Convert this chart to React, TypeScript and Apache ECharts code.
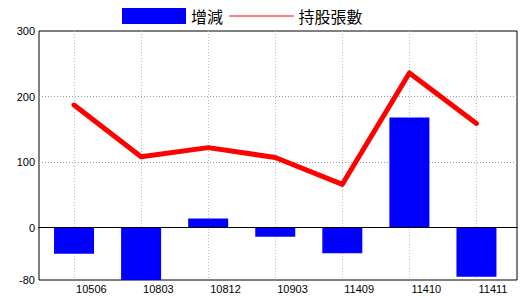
import React, { useEffect, useRef } from "react";
import * as echarts from "echarts";

const categories = ["10506", "10803", "10812", "10903", "11409", "11410", "11411"];
const changeValues = [-40, -80, 14, -14, -39, 168, -75];
const holderValues = [187, 108, 122, 107, 66, 236, 159];
const yLabels = [300, 200, 100, 0, -80];

export default function App() {
  const ref = useRef<HTMLDivElement>(null);
  useEffect(() => {
    if (!ref.current) return;
    const chart = echarts.init(ref.current, null, { renderer: "svg" });
    const fontNum = "Liberation Sans, Arial, sans-serif";
    chart.setOption({
      animation: false,
      backgroundColor: "#fff",
      legend: {
        left: 122,
        top: 8,
        itemWidth: 64,
        itemHeight: 16,
        itemGap: 6,
        padding: 0,
        textStyle: { fontSize: 16, color: "#000", fontFamily: "Noto Sans CJK TC" },
        lineStyle: { width: 1 },
        data: [
          { name: "增減", icon: "rect" },
          { name: "持股張數", itemStyle: { color: "transparent", opacity: 0, borderWidth: 0 } },
        ],
      },
      grid: [
        { left: 39, right: 3, top: 31, bottom: 20, show: true, borderColor: "#000", borderWidth: 1, backgroundColor: "transparent" },
        { left: 40.5, right: 10, top: 31, bottom: 20, show: false },
      ],
      xAxis: [
        {
          gridIndex: 0,
          type: "value",
          min: 0,
          max: 1,
          z: 5,
          axisLine: { show: true, onZero: true, lineStyle: { color: "#000", width: 1 } },
          axisLabel: { show: false },
          axisTick: { show: false },
          splitLine: { show: false },
        },
        {
          gridIndex: 1,
          type: "category",
          data: categories,
          axisLine: { show: false },
          axisTick: { show: false },
          axisLabel: {
            align: "left",
            margin: 3,
            padding: [0, 0, 0, 2],
            fontSize: 11,
            color: "#000",
            fontFamily: fontNum,
          },
          splitLine: {
            show: true,
            alignWithLabel: true,
            lineStyle: { color: "#a0c4d8", type: [1, 2], width: 1 },
          },
        },
      ],
      yAxis: [
        {
          gridIndex: 0,
          type: "value",
          min: -80,
          max: 300,
          splitNumber: 4,
          axisLine: { show: false },
          axisTick: { show: false },
          axisLabel: {
            margin: 4,
            fontSize: 11,
            color: "#000",
            fontFamily: fontNum,
            formatter: (v: number) => (yLabels.includes(v) ? String(v) : ""),
          },
          splitLine: {
            show: true,
            showMinLine: false,
            showMaxLine: false,
            lineStyle: { color: "#999", type: [1, 2], width: 1 },
          },
        },
        {
          gridIndex: 1,
          type: "value",
          min: -80,
          max: 300,
          show: false,
          splitLine: { show: false },
        },
      ],
      series: [
        {
          name: "增減",
          type: "bar",
          xAxisIndex: 1,
          yAxisIndex: 1,
          data: changeValues,
          barWidth: 40,
          itemStyle: { color: "#0000ff" },
        },
        {
          name: "持股張數",
          type: "line",
          xAxisIndex: 1,
          yAxisIndex: 1,
          data: holderValues,
          symbol: "none",
          z: 4,
          lineStyle: { color: "#ff0000", width: 5, cap: "round", join: "round" },
          itemStyle: { color: "#ff0000" },
        },
      ],
    });
    return () => chart.dispose();
  }, []);
  return <div ref={ref} style={{ position: "fixed", left: 0, top: 0, width: 520, height: 300 }} />;
}
